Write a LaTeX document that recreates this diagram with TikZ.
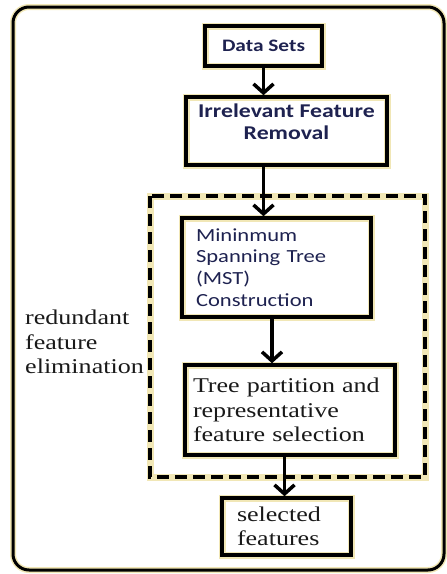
\documentclass[tikz,border=0pt]{standalone}
\usepackage{fontspec}
\usetikzlibrary{arrows.meta}
\newfontfamily\calfont[FakeStretch=1.22]{Carlito}
\newfontfamily\timesfont[FakeStretch=1.24]{Liberation Serif}
\definecolor{halo}{HTML}{F1E7B6}
\definecolor{ink}{HTML}{1E2250}

\begin{document}
\begin{tikzpicture}[x=1pt,y=-1pt,
    box/.style={draw, line width=3.5pt, inner sep=0pt, preaction={draw=halo, line width=7pt}},
    flow/.style={line width=3.5pt, -{Straight Barb[length=9pt,width=20pt]}},
    calibri/.style={font=\calfont\fontsize{18.5}{21.7}\selectfont, text=ink},
    serif/.style={font=\timesfont\fontsize{21}{24.5}\selectfont, text=black!90}]
        \useasboundingbox (0,0) rectangle (447,574);
        \draw[line width=3pt, rounded corners=16pt, preaction={draw=halo, line width=6pt}] (13,7) rectangle (444,570);
        \draw[line width=3.5pt, dash pattern=on 12pt off 6pt, preaction={draw=halo, line width=7pt}] (150,196) rectangle (425,477);
        \node[box, minimum width=117pt, minimum height=40pt, font=\calfont\bfseries\fontsize{17.5}{22}\selectfont, text=ink] (data) at (263.5,46) {Data Sets};
        \node[box, minimum width=201pt, minimum height=68pt, font=\calfont\bfseries\fontsize{19.5}{22}\selectfont, text=ink] (irr) at (286.5,131) {\raisebox{2pt}[0pt][0pt]{\begin{tabular}{@{}c@{}}Irrelevant Feature\\Removal\end{tabular}}};
        \node[box, calibri, minimum width=189pt, minimum height=99pt, text width=161pt, align=left] (mst) at (276.5,267.5) {Mininmum\\Spanning Tree\\(MST)\\Construction};
        \node[box, serif, minimum width=210pt, minimum height=90pt, text width=194pt, align=left] (tree) at (290,410) {Tree partition and\\representative\\feature selection};
        \node[box, serif, minimum width=129pt, minimum height=57pt, text width=99pt, align=left] (sel) at (286.5,526.5) {selected\\features};
        \node[serif, anchor=west, align=left, inner sep=0pt] (elim) at (25,342) {redundant\\feature\\elimination};
        \draw[flow] (data.south) -- (data.south |- irr.north);
        \draw[flow] (irr.south -| data.south) -- (mst.north -| data.south);
        \draw[flow] ([xshift=-4.5pt]mst.south) -- ([xshift=-4.5pt]mst.south |- tree.north);
        \draw[flow] ([xshift=-5.5pt]tree.south) -- ([xshift=-5.5pt]tree.south |- sel.north);
    \end{tikzpicture}
\end{document}
